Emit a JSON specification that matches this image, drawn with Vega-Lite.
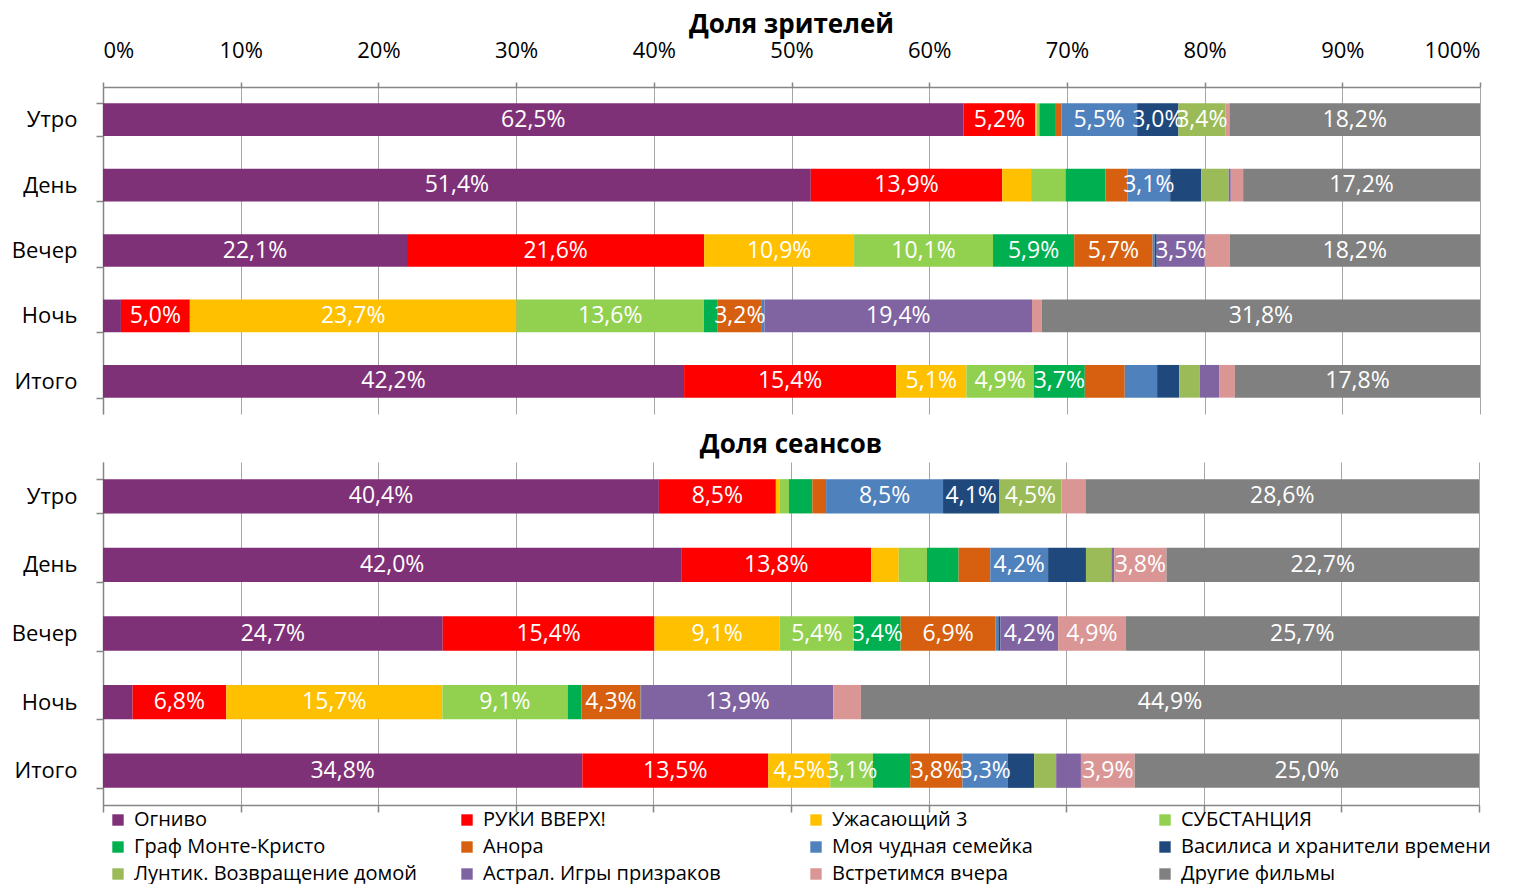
{
  "$schema": "https://vega.github.io/schema/vega-lite/v6.json",
  "padding": {"left": 11, "top": 12, "right": 5, "bottom": 0},
  "background": "white",
  "datasets": {
    "d": [
      {"p": "v", "t": "Утро", "f": "Огниво", "v": 0.625},
      {"p": "v", "t": "Утро", "f": "РУКИ ВВЕРХ!", "v": 0.052},
      {"p": "v", "t": "Утро", "f": "Ужасающий 3", "v": 0.001},
      {"p": "v", "t": "Утро", "f": "СУБСТАНЦИЯ", "v": 0.002},
      {"p": "v", "t": "Утро", "f": "Граф Монте-Кристо", "v": 0.012},
      {"p": "v", "t": "Утро", "f": "Анора", "v": 0.004},
      {"p": "v", "t": "Утро", "f": "Моя чудная семейка", "v": 0.055},
      {"p": "v", "t": "Утро", "f": "Василиса и хранители времени", "v": 0.030},
      {"p": "v", "t": "Утро", "f": "Лунтик. Возвращение домой", "v": 0.034},
      {"p": "v", "t": "Утро", "f": "Встретимся вчера", "v": 0.003},
      {"p": "v", "t": "Утро", "f": "Другие фильмы", "v": 0.182},
      {"p": "v", "t": "День", "f": "Огниво", "v": 0.514},
      {"p": "v", "t": "День", "f": "РУКИ ВВЕРХ!", "v": 0.139},
      {"p": "v", "t": "День", "f": "Ужасающий 3", "v": 0.021},
      {"p": "v", "t": "День", "f": "СУБСТАНЦИЯ", "v": 0.025},
      {"p": "v", "t": "День", "f": "Граф Монте-Кристо", "v": 0.029},
      {"p": "v", "t": "День", "f": "Анора", "v": 0.016},
      {"p": "v", "t": "День", "f": "Моя чудная семейка", "v": 0.031},
      {"p": "v", "t": "День", "f": "Василиса и хранители времени", "v": 0.0225},
      {"p": "v", "t": "День", "f": "Лунтик. Возвращение домой", "v": 0.020},
      {"p": "v", "t": "День", "f": "Астрал. Игры призраков", "v": 0.0015},
      {"p": "v", "t": "День", "f": "Встретимся вчера", "v": 0.009},
      {"p": "v", "t": "День", "f": "Другие фильмы", "v": 0.172},
      {"p": "v", "t": "Вечер", "f": "Огниво", "v": 0.221},
      {"p": "v", "t": "Вечер", "f": "РУКИ ВВЕРХ!", "v": 0.216},
      {"p": "v", "t": "Вечер", "f": "Ужасающий 3", "v": 0.109},
      {"p": "v", "t": "Вечер", "f": "СУБСТАНЦИЯ", "v": 0.101},
      {"p": "v", "t": "Вечер", "f": "Граф Монте-Кристо", "v": 0.059},
      {"p": "v", "t": "Вечер", "f": "Анора", "v": 0.057},
      {"p": "v", "t": "Вечер", "f": "Моя чудная семейка", "v": 0.0015},
      {"p": "v", "t": "Вечер", "f": "Василиса и хранители времени", "v": 0.0015},
      {"p": "v", "t": "Вечер", "f": "Астрал. Игры призраков", "v": 0.035},
      {"p": "v", "t": "Вечер", "f": "Встретимся вчера", "v": 0.018},
      {"p": "v", "t": "Вечер", "f": "Другие фильмы", "v": 0.182},
      {"p": "v", "t": "Ночь", "f": "Огниво", "v": 0.013},
      {"p": "v", "t": "Ночь", "f": "РУКИ ВВЕРХ!", "v": 0.050},
      {"p": "v", "t": "Ночь", "f": "Ужасающий 3", "v": 0.237},
      {"p": "v", "t": "Ночь", "f": "СУБСТАНЦИЯ", "v": 0.136},
      {"p": "v", "t": "Ночь", "f": "Граф Монте-Кристо", "v": 0.010},
      {"p": "v", "t": "Ночь", "f": "Анора", "v": 0.032},
      {"p": "v", "t": "Ночь", "f": "Моя чудная семейка", "v": 0.002},
      {"p": "v", "t": "Ночь", "f": "Астрал. Игры призраков", "v": 0.194},
      {"p": "v", "t": "Ночь", "f": "Встретимся вчера", "v": 0.007},
      {"p": "v", "t": "Ночь", "f": "Другие фильмы", "v": 0.318},
      {"p": "v", "t": "Итого", "f": "Огниво", "v": 0.422},
      {"p": "v", "t": "Итого", "f": "РУКИ ВВЕРХ!", "v": 0.154},
      {"p": "v", "t": "Итого", "f": "Ужасающий 3", "v": 0.051},
      {"p": "v", "t": "Итого", "f": "СУБСТАНЦИЯ", "v": 0.049},
      {"p": "v", "t": "Итого", "f": "Граф Монте-Кристо", "v": 0.037},
      {"p": "v", "t": "Итого", "f": "Анора", "v": 0.029},
      {"p": "v", "t": "Итого", "f": "Моя чудная семейка", "v": 0.0235},
      {"p": "v", "t": "Итого", "f": "Василиса и хранители времени", "v": 0.016},
      {"p": "v", "t": "Итого", "f": "Лунтик. Возвращение домой", "v": 0.015},
      {"p": "v", "t": "Итого", "f": "Астрал. Игры призраков", "v": 0.014},
      {"p": "v", "t": "Итого", "f": "Встретимся вчера", "v": 0.0115},
      {"p": "v", "t": "Итого", "f": "Другие фильмы", "v": 0.178},
      {"p": "s", "t": "Утро", "f": "Огниво", "v": 0.404},
      {"p": "s", "t": "Утро", "f": "РУКИ ВВЕРХ!", "v": 0.085},
      {"p": "s", "t": "Утро", "f": "Ужасающий 3", "v": 0.0025},
      {"p": "s", "t": "Утро", "f": "СУБСТАНЦИЯ", "v": 0.007},
      {"p": "s", "t": "Утро", "f": "Граф Монте-Кристо", "v": 0.017},
      {"p": "s", "t": "Утро", "f": "Анора", "v": 0.010},
      {"p": "s", "t": "Утро", "f": "Моя чудная семейка", "v": 0.085},
      {"p": "s", "t": "Утро", "f": "Василиса и хранители времени", "v": 0.041},
      {"p": "s", "t": "Утро", "f": "Лунтик. Возвращение домой", "v": 0.045},
      {"p": "s", "t": "Утро", "f": "Встретимся вчера", "v": 0.0175},
      {"p": "s", "t": "Утро", "f": "Другие фильмы", "v": 0.286},
      {"p": "s", "t": "День", "f": "Огниво", "v": 0.420},
      {"p": "s", "t": "День", "f": "РУКИ ВВЕРХ!", "v": 0.138},
      {"p": "s", "t": "День", "f": "Ужасающий 3", "v": 0.020},
      {"p": "s", "t": "День", "f": "СУБСТАНЦИЯ", "v": 0.0205},
      {"p": "s", "t": "День", "f": "Граф Монте-Кристо", "v": 0.023},
      {"p": "s", "t": "День", "f": "Анора", "v": 0.023},
      {"p": "s", "t": "День", "f": "Моя чудная семейка", "v": 0.042},
      {"p": "s", "t": "День", "f": "Василиса и хранители времени", "v": 0.0275},
      {"p": "s", "t": "День", "f": "Лунтик. Возвращение домой", "v": 0.0185},
      {"p": "s", "t": "День", "f": "Астрал. Игры призраков", "v": 0.002},
      {"p": "s", "t": "День", "f": "Встретимся вчера", "v": 0.038},
      {"p": "s", "t": "День", "f": "Другие фильмы", "v": 0.227},
      {"p": "s", "t": "Вечер", "f": "Огниво", "v": 0.247},
      {"p": "s", "t": "Вечер", "f": "РУКИ ВВЕРХ!", "v": 0.154},
      {"p": "s", "t": "Вечер", "f": "Ужасающий 3", "v": 0.091},
      {"p": "s", "t": "Вечер", "f": "СУБСТАНЦИЯ", "v": 0.054},
      {"p": "s", "t": "Вечер", "f": "Граф Монте-Кристо", "v": 0.034},
      {"p": "s", "t": "Вечер", "f": "Анора", "v": 0.069},
      {"p": "s", "t": "Вечер", "f": "Моя чудная семейка", "v": 0.002},
      {"p": "s", "t": "Вечер", "f": "Василиса и хранители времени", "v": 0.0015},
      {"p": "s", "t": "Вечер", "f": "Астрал. Игры призраков", "v": 0.042},
      {"p": "s", "t": "Вечер", "f": "Встретимся вчера", "v": 0.049},
      {"p": "s", "t": "Вечер", "f": "Другие фильмы", "v": 0.257},
      {"p": "s", "t": "Ночь", "f": "Огниво", "v": 0.0215},
      {"p": "s", "t": "Ночь", "f": "РУКИ ВВЕРХ!", "v": 0.068},
      {"p": "s", "t": "Ночь", "f": "Ужасающий 3", "v": 0.157},
      {"p": "s", "t": "Ночь", "f": "СУБСТАНЦИЯ", "v": 0.091},
      {"p": "s", "t": "Ночь", "f": "Граф Монте-Кристо", "v": 0.010},
      {"p": "s", "t": "Ночь", "f": "Анора", "v": 0.043},
      {"p": "s", "t": "Ночь", "f": "Моя чудная семейка", "v": 0.001},
      {"p": "s", "t": "Ночь", "f": "Астрал. Игры призраков", "v": 0.139},
      {"p": "s", "t": "Ночь", "f": "Встретимся вчера", "v": 0.020},
      {"p": "s", "t": "Ночь", "f": "Другие фильмы", "v": 0.449},
      {"p": "s", "t": "Итого", "f": "Огниво", "v": 0.348},
      {"p": "s", "t": "Итого", "f": "РУКИ ВВЕРХ!", "v": 0.135},
      {"p": "s", "t": "Итого", "f": "Ужасающий 3", "v": 0.045},
      {"p": "s", "t": "Итого", "f": "СУБСТАНЦИЯ", "v": 0.031},
      {"p": "s", "t": "Итого", "f": "Граф Монте-Кристо", "v": 0.027},
      {"p": "s", "t": "Итого", "f": "Анора", "v": 0.038},
      {"p": "s", "t": "Итого", "f": "Моя чудная семейка", "v": 0.033},
      {"p": "s", "t": "Итого", "f": "Василиса и хранители времени", "v": 0.019},
      {"p": "s", "t": "Итого", "f": "Лунтик. Возвращение домой", "v": 0.016},
      {"p": "s", "t": "Итого", "f": "Астрал. Игры призраков", "v": 0.018},
      {"p": "s", "t": "Итого", "f": "Встретимся вчера", "v": 0.039},
      {"p": "s", "t": "Итого", "f": "Другие фильмы", "v": 0.250}
    ]
  },
  "spacing": 18,
  "vconcat": [
    {
      "title": {"text": "Доля зрителей", "fontSize": 26, "fontWeight": "bold", "anchor": "middle", "offset": 1, "color": "#000000"},
      "width": 1377,
      "height": 327,
      "data": {"name": "d"},
      "transform": [
        {"filter": "datum.p === 'v'"},
        {"calculate": "indexof(['Огниво','РУКИ ВВЕРХ!','Ужасающий 3','СУБСТАНЦИЯ','Граф Монте-Кристо','Анора','Моя чудная семейка','Василиса и хранители времени','Лунтик. Возвращение домой','Астрал. Игры призраков','Встретимся вчера','Другие фильмы'], datum.f)", "as": "k"},
        {"stack": "v", "groupby": ["t"], "sort": [{"field": "k", "order": "ascending"}], "offset": "normalize", "as": ["x0", "x1"]},
        {"calculate": "(datum.x0 + datum.x1) / 2", "as": "xm"}
      ],
      "encoding": {
        "y": {
          "field": "t", "type": "nominal",
          "sort": ["Утро", "День", "Вечер", "Ночь", "Итого"],
          "scale": {"paddingInner": 0.5, "paddingOuter": 0.25},
          "axis": {"title": null, "tickBand": "extent", "tickSize": 7, "labelPadding": 19, "grid": false}
        }
      },
      "layer": [
        {
          "mark": {"type": "bar"},
          "encoding": {
            "x": {"field": "x0", "type": "quantitative", "scale": {"domain": [0, 1], "nice": false},
              "axis": {"orient": "top", "title": null, "format": ".0%", "values": [0, 0.1, 0.2, 0.3, 0.4, 0.5, 0.6, 0.7, 0.8, 0.9, 1], "grid": true, "tickSize": 5, "labelPadding": 20}},
            "x2": {"field": "x1"},
            "color": {"field": "f", "type": "nominal",
              "scale": {"domain": ["Огниво","РУКИ ВВЕРХ!","Ужасающий 3","СУБСТАНЦИЯ","Граф Монте-Кристо","Анора","Моя чудная семейка","Василиса и хранители времени","Лунтик. Возвращение домой","Астрал. Игры призраков","Встретимся вчера","Другие фильмы"],
                "range": ["#7F3178","#FF0000","#FFC000","#92D050","#00B050","#D6600F","#4F81BD","#1F497D","#9BBB59","#8064A2","#D99694","#808080"]},
              "legend": {"title": null, "orient": "bottom", "direction": "horizontal", "columns": 4, "symbolType": "square", "symbolSize": 130, "symbolStrokeWidth": 0, "labelFontSize": 20, "labelColor": "#000000", "rowPadding": 7, "columnPadding": 13, "gridAlign": "all", "offset": -8, "padding": 5, "labelOffset": 6, "labelLimit": 400}
            },
            "order": {"field": "k"}
          }
        },
        {
          "transform": [{"filter": "datum.v >= 0.0295"}],
          "mark": {"type": "text", "color": "white", "fontSize": 23, "baseline": "middle", "align": "center"},
          "encoding": {
            "x": {"field": "xm", "type": "quantitative"},
            "text": {"field": "v", "type": "quantitative", "format": ".1%"}
          }
        }
      ]
    },
    {
      "title": {"text": "Доля сеансов", "fontSize": 26, "fontWeight": "bold", "anchor": "middle", "offset": -7, "color": "#000000"},
      "width": 1376,
      "height": 343,
      "data": {"name": "d"},
      "transform": [
        {"filter": "datum.p === 's'"},
        {"calculate": "indexof(['Огниво','РУКИ ВВЕРХ!','Ужасающий 3','СУБСТАНЦИЯ','Граф Монте-Кристо','Анора','Моя чудная семейка','Василиса и хранители времени','Лунтик. Возвращение домой','Астрал. Игры призраков','Встретимся вчера','Другие фильмы'], datum.f)", "as": "k"},
        {"stack": "v", "groupby": ["t"], "sort": [{"field": "k", "order": "ascending"}], "offset": "normalize", "as": ["x0", "x1"]},
        {"calculate": "(datum.x0 + datum.x1) / 2", "as": "xm"}
      ],
      "encoding": {
        "y": {
          "field": "t", "type": "nominal",
          "sort": ["Утро", "День", "Вечер", "Ночь", "Итого"],
          "scale": {"paddingInner": 0.5, "paddingOuter": 0.25},
          "axis": {"title": null, "tickBand": "extent", "tickSize": 7, "labelPadding": 19, "grid": false}
        }
      },
      "layer": [
        {
          "mark": {"type": "bar"},
          "encoding": {
            "x": {"field": "x0", "type": "quantitative", "scale": {"domain": [0, 1], "nice": false},
              "axis": {"orient": "bottom", "title": null, "labels": false, "values": [0, 0.1, 0.2, 0.3, 0.4, 0.5, 0.6, 0.7, 0.8, 0.9, 1], "grid": true, "tickSize": 7}},
            "x2": {"field": "x1"},
            "color": {"field": "f", "type": "nominal"},
            "order": {"field": "k"}
          }
        },
        {
          "transform": [{"filter": "datum.v >= 0.0295"}],
          "mark": {"type": "text", "color": "white", "fontSize": 23, "baseline": "middle", "align": "center"},
          "encoding": {
            "x": {"field": "xm", "type": "quantitative"},
            "text": {"field": "v", "type": "quantitative", "format": ".1%"}
          }
        }
      ]
    }
  ],
  "resolve": {"scale": {"color": "shared"}},
  "config": {
    "font": "Open Sans",
    "view": {"stroke": null},
    "locale": {"number": {"decimal": ",", "thousands": " ", "grouping": [3], "currency": ["", " ₽"]}},
    "axis": {"labelFont": "Open Sans", "labelFontSize": 22, "labelColor": "#000000", "domainColor": "#868686", "tickColor": "#868686", "gridColor": "#A6A6A6", "domainWidth": 1.5, "tickWidth": 1.5},
    "legend": {"labelFont": "Open Sans"},
    "title": {"font": "Open Sans"}
  }
}
